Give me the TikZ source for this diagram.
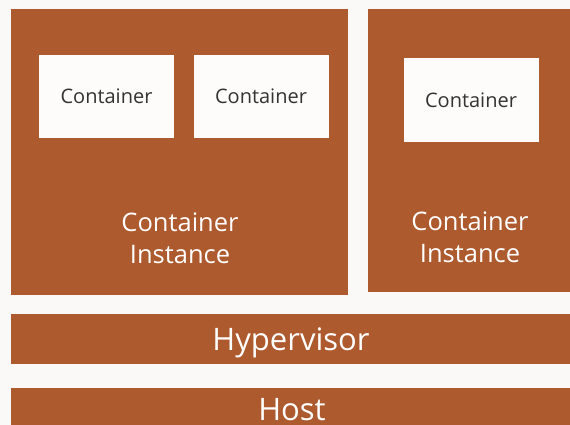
\documentclass[tikz,border=0pt]{standalone}
\usepackage{fontspec}
\setmainfont{Open Sans}
\usetikzlibrary{positioning}

\definecolor{rust}{HTML}{AD5A2E}
\definecolor{paper}{HTML}{FBF9F7}
\definecolor{boxwhite}{HTML}{FDFCFA}
\definecolor{inktext}{HTML}{333333}

\begin{document}
\begin{tikzpicture}[x=1pt, y=-1pt,
    layer/.style={fill=rust, draw=none, inner sep=0pt},
    ctrbox/.style={fill=boxwhite, draw=none, inner sep=0pt,
        minimum width=135pt, minimum height=83pt, text=inktext,
        font=\fontsize{20}{24}\selectfont},
    biglabel/.style={text=white, align=center,
        font=\fontsize{25.5}{32}\selectfont},
    layerlabel/.style={text=white, font=\fontsize{31}{36}\selectfont}]
% Page background
\fill[paper] (0,0) rectangle (570,425);
\useasboundingbox (0,0) rectangle (570,425);

% Two container instances
\node[layer, minimum width=337pt, minimum height=286pt] (inst1) at (179.5,152) {};
\node[layer, minimum width=210pt, minimum height=283pt] (inst2) at (473,150.5) {};

% Containers inside the instances
\node[ctrbox] (c1) at (106.5,96.5) {Container};
\node[ctrbox] (c2) at (261,96.5) {Container};
\node[ctrbox, minimum height=84pt] (c3) at (471,100) {Container};

% Instance labels
\node[biglabel] (lab1) at (180,238) {Container\\Instance};
\node[biglabel] (lab2) at (470,237) {Container\\Instance};

% Hypervisor and host bars
\node[layer, minimum width=570pt, minimum height=50pt] (hyp) at (296,339) {};
\node[layer, minimum width=570pt, minimum height=52pt] (host) at (296,414) {};
\node[layerlabel] (hyplab) at (291,343) {Hypervisor};
\node[layerlabel] (hostlab) at (292,410) {Host};
\end{tikzpicture}
\end{document}
